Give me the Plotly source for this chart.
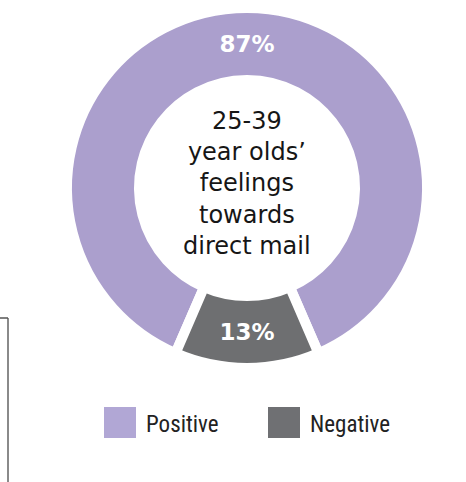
import plotly.graph_objects as go

# Survey shares for 25-39 year olds
labels = ["Positive", "Negative"]
values = [87, 13]
colors = ["#ab9fcd", "#6e6f71"]
legend_colors = ["#b1a7d5", "#6f7073"]
center_title = "25-39<br>year olds’<br>feelings<br>towards<br>direct mail"

W, H = 466, 482

fig = go.Figure()
fig.add_trace(go.Pie(
    labels=labels,
    values=values,
    hole=0.6,
    sort=False,
    direction="clockwise",
    rotation=-values[0] / 100 * 360 / 2,
    marker=dict(colors=colors, line=dict(color="white", width=10)),
    texttemplate="<b>%{value}%</b>",
    textposition="inside",
    insidetextorientation="horizontal",
    textfont=dict(color="white", size=23, family="'DejaVu Sans', sans-serif"),
    domain=dict(x=[67 / W, 427 / W], y=[1 - 368 / H, 1 - 8 / H]),
    showlegend=False,
    hoverinfo="label+percent",
))

fig.add_annotation(
    x=247 / W, y=1 - 183 / H, xref="paper", yref="paper",
    text=center_title, showarrow=False,
    font=dict(size=24, color="#161616", family="'DejaVu Sans', sans-serif"),
    align="center",
)

# Legend drawn as swatches plus labels
legend_x = [104, 268]
for lx, lab, col in zip(legend_x, labels, legend_colors):
    fig.add_shape(type="rect", xref="paper", yref="paper",
                  x0=lx / W, x1=(lx + 32) / W,
                  y0=1 - 438 / H, y1=1 - 407 / H,
                  fillcolor=col, line=dict(width=0))
    fig.add_annotation(x=(lx + 40) / W, y=1 - 424 / H, xref="paper", yref="paper",
                       text=lab, showarrow=False, xanchor="left", yanchor="middle",
                       font=dict(size=23, color="#222222",
                                 family="'Liberation Sans Narrow', 'Roboto Condensed', 'DejaVu Sans Condensed', sans-serif"))

# Frame edge at lower left
fig.add_shape(type="line", xref="paper", yref="paper",
              x0=8 / W, x1=8 / W, y0=0, y1=1 - 318 / H,
              line=dict(color="#8a8a8a", width=2))
fig.add_shape(type="line", xref="paper", yref="paper",
              x0=0, x1=8 / W, y0=1 - 318 / H, y1=1 - 318 / H,
              line=dict(color="#555555", width=1.5))

fig.update_layout(
    width=W, height=H,
    margin=dict(l=0, r=0, t=0, b=0),
    paper_bgcolor="white", plot_bgcolor="white",
)

fig.write_html("out.html")
